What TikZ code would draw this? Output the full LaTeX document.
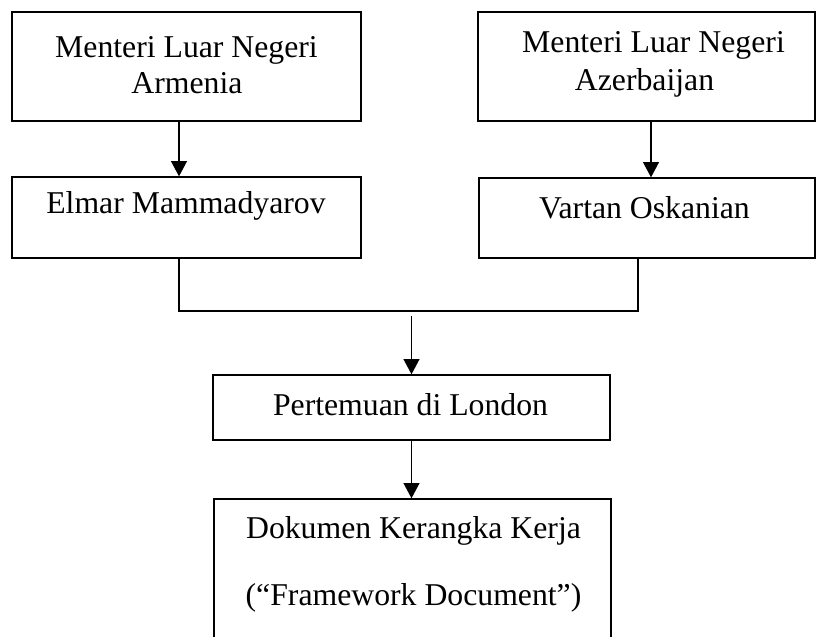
\documentclass[tikz,border=0pt]{standalone}
\usepackage{fontspec}
\setmainfont{Liberation Serif}
\usetikzlibrary{arrows.meta}
\begin{document}
\begin{tikzpicture}[x=0.75pt,y=-0.75pt,
    box/.style 2 args={draw=black,line width=1pt,minimum width=#1*0.75pt,minimum height=#2*0.75pt,inner sep=0pt},
    teks/.style={anchor=base,inner sep=0pt,font=\fontsize{23.8}{28}\selectfont},
    garis/.style={draw=black,line width=1pt},
    panah/.style={garis,-{Triangle[length=11.5pt,width=12pt]}}]
    \useasboundingbox (0,0) rectangle (816,636);

    \node[box={349}{109}] (armMenteri) at (186.5,66.5) {};
    \node[box={337}{109}] (azeMenteri) at (646.5,66.5) {};
    \node[box={349}{81}] (elmar) at (186.5,217.5) {};
    \node[box={336}{80}] (vartan) at (647,218) {};
    \node[box={397}{65}] (pertemuan) at (411.5,407.5) {};
    \node[box={397}{181}] (dokumen) at (412.5,589.5) {};

    \node[teks] (armTxtA) at (186.5,57) {Menteri Luar Negeri};
    \node[teks] (armTxtB) at (187,93) {Armenia};
    \node[teks] (azeTxtA) at (653.5,52) {Menteri Luar Negeri};
    \node[teks] (azeTxtB) at (644.5,90) {Azerbaijan};
    \node[teks] (elmarTxt) at (186,213) {Elmar Mammadyarov};
    \node[teks] (vartanTxt) at (644.5,218) {Vartan Oskanian};
    \node[teks] (pertemuanTxt) at (410.5,415) {Pertemuan di London};
    \node[teks] (dokTxtA) at (413.5,538) {Dokumen Kerangka Kerja};
    \node[teks] (dokTxtB) at (413.5,605) {(“Framework Document”)};

    \coordinate (leftX) at (179,0);
    \coordinate (rightX) at (651,0);
    \draw[panah] (armMenteri.south -| leftX) -- (elmar.north -| leftX);
    \draw[panah] (azeMenteri.south -| rightX) -- (vartan.north -| rightX);

    \coordinate (joinL) at (179,311);
    \coordinate (joinR) at (638,311);
    \draw[garis] (elmar.south -| joinL) -- (joinL) -- (joinR) -- (vartan.south -| joinR);

    \coordinate (meetTop) at (411.5,316);
    \draw[panah] (meetTop) -- (pertemuan.north);
    \draw[panah] (pertemuan.south) -- (dokumen.north -| pertemuan.south);
\end{tikzpicture}
\end{document}
